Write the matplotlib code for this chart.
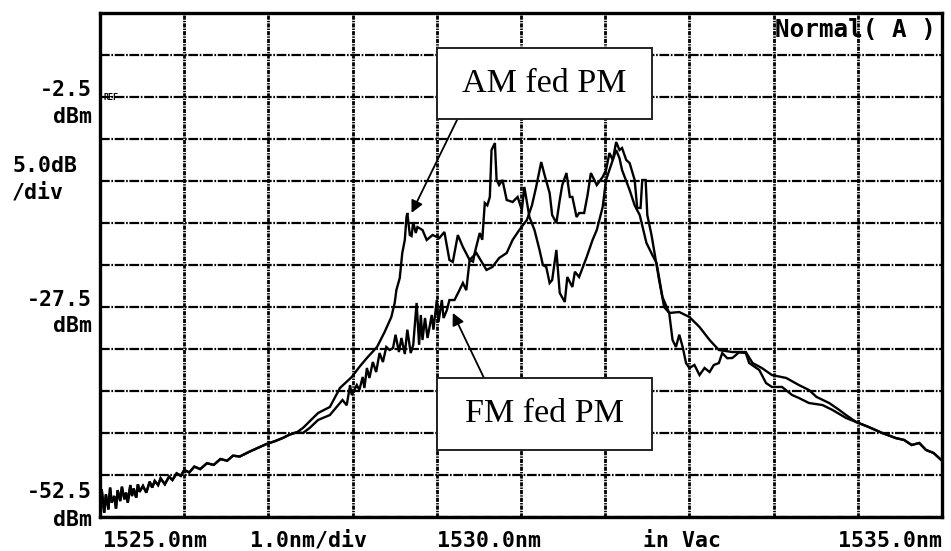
import numpy as np
import matplotlib.pyplot as plt
from matplotlib.patches import Rectangle

plt.rcParams['lines.scale_dashes'] = False

# shared low-level tails of both spectra (nm, dBm)
left_wl = [1525.00, 1525.02, 1525.05, 1525.07, 1525.10, 1525.12, 1525.14, 1525.17,
           1525.19, 1525.21, 1525.24, 1525.26, 1525.29, 1525.31, 1525.33, 1525.36,
           1525.38, 1525.40, 1525.43, 1525.45, 1525.47, 1525.51, 1525.55, 1525.59,
           1525.62, 1525.65, 1525.69, 1525.72, 1525.77, 1525.82, 1525.86, 1525.91,
           1525.96, 1526.00, 1526.06, 1526.12, 1526.19, 1526.27, 1526.35, 1526.43,
           1526.51, 1526.58, 1526.66, 1526.78, 1526.87, 1526.98, 1527.07, 1527.17,
           1527.25, 1527.34]
left_lvl = [-51.0, -49.2, -52.0, -49.8, -51.6, -49.0, -50.8, -50.0,
            -51.5, -49.3, -50.6, -48.9, -50.4, -49.6, -50.8, -48.7,
            -50.0, -49.1, -50.2, -48.6, -49.5, -48.8, -49.6, -48.3,
            -49.0, -48.2, -48.7, -47.9, -48.6, -47.7, -48.1, -47.3,
            -47.6, -46.9, -47.2, -46.5, -46.8, -46.1, -46.3, -45.6,
            -45.8, -45.2, -45.3, -44.7, -44.3, -43.8, -43.5, -43.1,
            -42.7, -42.4]

right_wl = [1533.98, 1534.13, 1534.29, 1534.45, 1534.55, 1534.64, 1534.73,
            1534.81, 1534.90, 1534.99]
right_lvl = [-41.19, -41.79, -42.50, -43.10, -43.33, -43.93, -43.69,
             -44.52, -44.88, -45.70]

# AM fed PM
am_wl = [1527.41, 1527.59, 1527.73, 1527.85, 1527.99, 1528.08, 1528.17, 1528.29,
         1528.38, 1528.46, 1528.50, 1528.52, 1528.56, 1528.59, 1528.62, 1528.64,
         1528.65, 1528.68, 1528.70, 1528.72, 1528.75, 1528.77, 1528.83, 1528.88,
         1528.95, 1529.03, 1529.09, 1529.15, 1529.19, 1529.25, 1529.31, 1529.39,
         1529.47, 1529.59, 1529.66, 1529.74, 1529.83, 1529.90, 1529.98, 1530.07,
         1530.13, 1530.18, 1530.24, 1530.28, 1530.34, 1530.37, 1530.42, 1530.46,
         1530.49, 1530.54, 1530.58, 1530.61, 1530.66, 1530.69, 1530.75, 1530.79,
         1530.83, 1530.90, 1530.97, 1531.01, 1531.05, 1531.09, 1531.13, 1531.17,
         1531.20, 1531.25, 1531.29, 1531.35, 1531.38, 1531.42, 1531.44, 1531.48,
         1531.50, 1531.55, 1531.58, 1531.64, 1531.70, 1531.76, 1531.88, 1532.00,
         1532.12, 1532.24, 1532.35, 1532.51, 1532.67, 1532.75, 1532.86, 1532.98,
         1533.15, 1533.30, 1533.42, 1533.51, 1533.66, 1533.78, 1533.86]
am_lvl = [-41.90, -40.12, -39.40, -37.14, -35.83, -34.64, -33.57, -32.26,
          -30.48, -28.69, -27.02, -25.48, -24.05, -21.07, -19.52, -16.79,
          -16.31, -18.93, -19.05, -17.40, -18.69, -17.98, -18.33, -19.52,
          -18.93, -19.29, -18.57, -21.90, -22.14, -18.93, -20.36, -21.90,
          -21.07, -23.09, -22.74, -21.67, -21.07, -19.52, -18.33, -17.14,
          -15.40, -13.21, -10.24, -11.79, -13.93, -16.55, -17.50, -14.76,
          -12.98, -11.55, -14.40, -14.40, -16.79, -16.31, -16.31, -14.20,
          -11.55, -12.98, -12.02, -11.19, -9.17, -10.00, -7.86, -8.81,
          -8.57, -10.00, -10.36, -12.38, -15.71, -15.71, -12.38, -12.38,
          -16.55, -18.93, -20.71, -24.29, -27.50, -28.21, -28.10, -28.69,
          -29.88, -31.43, -32.62, -32.86, -32.86, -34.17, -34.76, -35.60,
          -35.95, -36.79, -37.38, -38.21, -38.93, -39.76, -40.36]

# FM fed PM
fm_wl = [1527.41, 1527.49, 1527.59, 1527.73, 1527.81, 1527.88, 1527.93, 1527.97,
         1527.99, 1528.05, 1528.08, 1528.12, 1528.14, 1528.17, 1528.20, 1528.24,
         1528.28, 1528.32, 1528.36, 1528.40, 1528.44, 1528.48, 1528.51, 1528.55,
         1528.58, 1528.62, 1528.65, 1528.69, 1528.72, 1528.76, 1528.79, 1528.81,
         1528.83, 1528.86, 1528.89, 1528.94, 1528.96, 1529.00, 1529.02, 1529.06,
         1529.08, 1529.12, 1529.15, 1529.21, 1529.27, 1529.31, 1529.35, 1529.39,
         1529.43, 1529.45, 1529.51, 1529.54, 1529.57, 1529.60, 1529.63, 1529.65,
         1529.69, 1529.71, 1529.74, 1529.78, 1529.83, 1529.90, 1529.96, 1530.01,
         1530.04, 1530.10, 1530.16, 1530.22, 1530.26, 1530.30, 1530.34, 1530.37,
         1530.42, 1530.46, 1530.52, 1530.55, 1530.61, 1530.64, 1530.69, 1530.78,
         1530.85, 1530.90, 1530.93, 1530.97, 1531.01, 1531.05, 1531.09, 1531.13,
         1531.17, 1531.20, 1531.29, 1531.35, 1531.41, 1531.49, 1531.56, 1531.61,
         1531.68, 1531.73, 1531.76, 1531.80, 1531.84, 1531.88, 1531.92, 1531.96,
         1532.00, 1532.06, 1532.12, 1532.18, 1532.24, 1532.29, 1532.35, 1532.39,
         1532.45, 1532.51, 1532.59, 1532.67, 1532.71, 1532.83, 1532.91, 1532.98,
         1533.10, 1533.22, 1533.30, 1533.42, 1533.58, 1533.70, 1533.86]
fm_lvl = [-42.50, -41.90, -40.95, -40.36, -39.40, -38.57, -39.20, -36.80,
          -37.98, -36.79, -37.38, -35.83, -37.14, -34.76, -35.95, -34.05,
          -35.24, -32.98, -34.05, -32.26, -32.62, -32.38, -30.80, -32.86,
          -31.19, -33.10, -30.20, -32.98, -32.02, -27.02, -32.00, -28.45,
          -31.43, -28.81, -31.19, -28.45, -30.20, -26.67, -29.29, -26.67,
          -28.81, -27.86, -26.67, -26.67, -25.48, -24.64, -25.50, -21.90,
          -22.10, -21.07, -18.69, -19.50, -15.12, -15.40, -14.40, -8.81,
          -7.98, -12.38, -12.98, -12.38, -14.76, -15.00, -14.40, -15.95,
          -13.21, -16.79, -18.33, -20.71, -22.50, -22.74, -24.64, -24.29,
          -20.71, -25.83, -26.90, -23.93, -25.12, -23.30, -23.93, -21.55,
          -19.52, -18.33, -17.14, -15.60, -12.38, -11.19, -10.00, -8.81,
          -9.80, -11.19, -13.57, -15.40, -16.55, -19.88, -21.31, -22.26,
          -26.31, -27.50, -28.21, -31.43, -32.26, -30.80, -32.26, -34.17,
          -34.76, -34.40, -35.60, -34.76, -35.24, -34.40, -34.17, -32.98,
          -33.60, -33.57, -32.90, -32.98, -34.17, -35.00, -36.55, -37.02,
          -37.02, -37.98, -38.33, -38.93, -39.17, -39.76, -40.71]

wl_ticks = np.arange(1525.0, 1535.01, 1.0)
lvl_ticks = np.arange(-52.5, 7.51, 5.0)

W, H = 951, 551
fig = plt.figure(figsize=(W / 100, H / 100), dpi=100)
ax = fig.add_axes([100 / W, 34 / H, 842 / W, 504 / H])

for wl, lvl in [(am_wl, am_lvl), (fm_wl, fm_lvl)]:
    x = left_wl + wl + right_wl
    y = left_lvl + lvl + right_lvl
    ax.plot(x, y, color='black', lw=1.7, solid_joinstyle='miter')

ax.set_xlim(1525.0, 1535.0)
ax.set_ylim(-52.5, 7.5)
ax.set_xticks(wl_ticks)
ax.set_yticks(lvl_ticks)
ax.tick_params(length=0, labelbottom=False, labelleft=False)
ax.xaxis.grid(True, color='black', lw=2.0, linestyle=(0, (3, 0.8, 1, 0.8)))
ax.yaxis.grid(True, color='black', lw=1.6, linestyle=(0, (7, 1.2, 1.2, 1.2)))
ax.set_axisbelow(True)
for s in ax.spines.values():
    s.set_linewidth(2.4)

mono = dict(family='DejaVu Sans Mono', fontsize=15.5, fontweight='bold',
            color='black', transform=fig.transFigure)


def ftext(px, py, s, ha='left', va='center', **kw):
    d = dict(mono)
    d.update(kw)
    fig.text(px / W, 1 - py / H, s, ha=ha, va=va, **d)


ftext(92, 90, '-2.5', ha='right')
ftext(92, 117, 'dBm', ha='right')
ftext(12, 166, '5.0dB')
ftext(12, 192, '/div')
ftext(92, 300, '-27.5', ha='right')
ftext(92, 326, 'dBm', ha='right')
ftext(92, 492, '-52.5', ha='right')
ftext(92, 520, 'dBm', ha='right')
ftext(103, 541, '1525.0nm')
ftext(250, 541, '1.0nm/div')
ftext(437, 541, '1530.0nm')
ftext(643, 541, 'in Vac')
ftext(942, 541, '1535.0nm', ha='right')
ftext(936, 30, 'Normal( A )', ha='right', fontsize=17.5)
ftext(104, 97, 'REF', fontsize=6)

# labelled boxes with arrows pointing at each trace
labels = ['AM fed PM', 'FM fed PM']
box_px = [(437, 48, 652, 119), (437, 378, 652, 450)]
tail_px = [(457, 120), (484, 378)]
tip_data = [(1528.70, -16.3), (1529.19, -28.2)]

for text, (x0, y0, x1, y1), (tx, ty), tip in zip(labels, box_px, tail_px, tip_data):
    fig.patches.append(Rectangle((x0 / W, 1 - y1 / H), (x1 - x0) / W, (y1 - y0) / H,
                                 transform=fig.transFigure, fc='white',
                                 ec='#222222', lw=1.4, zorder=5))
    fig.text((x0 + x1) / 2 / W, 1 - (y0 + y1) / 2 / H, text,
             family='Liberation Serif', fontsize=24.5, ha='center', va='center',
             zorder=6)
    ax.annotate('', xy=tip, xycoords='data',
                xytext=(tx / W, 1 - ty / H), textcoords='figure fraction',
                arrowprops=dict(arrowstyle='-|>', color='black', lw=1.3,
                                mutation_scale=18, shrinkA=0, shrinkB=0))

fig.savefig('out.png', dpi=100)
